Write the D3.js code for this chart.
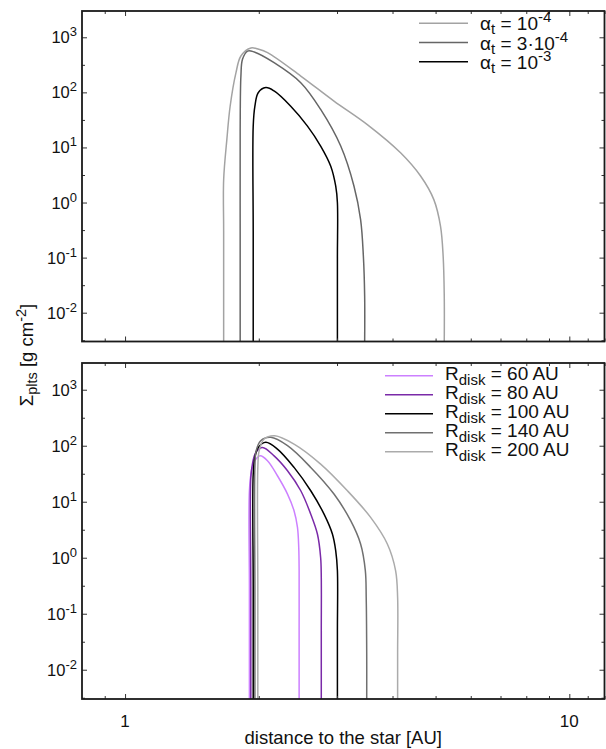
<!DOCTYPE html>
<html>
<head>
<meta charset="utf-8">
<script src="https://cdn.jsdelivr.net/npm/d3@7"></script>
<style>
  body { margin: 0; background: #fff; }
  svg { display: block; font-family: "Liberation Sans", Arial, Helvetica, sans-serif; }
</style>
</head>
<body>
<div id="chart"></div>
<script>
// ---- data: [distance AU, sigma g/cm^2] ----
const alphaLow = [[1.667, 0.003], [1.667, 0.3], [1.667, 2.6], [1.695, 14], [1.724, 56], [1.777, 228],
  [1.823, 457], [1.92, 640], [2.0, 605], [2.093, 525], [2.486, 198], [2.953, 69.5], [3.51, 26],
  [4.17, 8.0], [4.63, 3.0], [4.955, 1.13], [5.13, 0.37], [5.2, 0.106], [5.23, 0.02], [5.23, 0.003]];
const alphaMid = [[1.816, 0.003], [1.816, 0.3], [1.816, 20], [1.823, 198], [1.838, 398], [1.887, 562],
  [1.953, 541], [2.165, 346], [2.486, 150], [2.756, 49], [3.058, 10.6], [3.276, 1.98], [3.39, 0.49],
  [3.439, 0.106], [3.462, 0.02], [3.462, 0.003]];
const alphaHigh = [[1.943, 0.003], [1.943, 0.3], [1.943, 24.4], [1.96, 56], [1.994, 98.6], [2.074, 122],
  [2.165, 106], [2.36, 56], [2.574, 24.4], [2.756, 10.6], [2.904, 4.57], [2.98, 1.98], [3.006, 0.99],
  [3.006, 0.1], [3.006, 0.003]];

const rdisk60 = [[1.905, 0.003], [1.905, 0.3], [1.905, 15.7], [1.926, 35.8], [1.96, 54], [2.014, 66],
  [2.092, 54], [2.203, 29.1], [2.321, 13.7], [2.401, 6.9], [2.444, 3.47], [2.46, 1.53], [2.465, 0.59],
  [2.465, 0.05], [2.465, 0.003]];
const rdisk80 = [[1.919, 0.003], [1.919, 0.3], [1.919, 27], [1.935, 47], [1.97, 76], [2.039, 93],
  [2.165, 66], [2.321, 35.8], [2.486, 15.7], [2.618, 6.0], [2.71, 2.65], [2.756, 1.0], [2.765, 0.44],
  [2.765, 0.05], [2.765, 0.003]];
const rdisk100 = [[1.943, 0.003], [1.943, 0.3], [1.943, 31], [1.96, 61.6], [1.994, 93], [2.074, 115],
  [2.203, 87], [2.401, 41], [2.618, 15.7], [2.805, 6.0], [2.929, 2.65], [2.98, 1.33], [3.006, 0.59],
  [3.006, 0.05], [3.006, 0.003]];
const rdisk140 = [[1.96, 0.003], [1.96, 0.3], [1.96, 41], [1.973, 81.5], [2.02, 123], [2.128, 141],
  [2.321, 100], [2.618, 41], [2.953, 13.7], [3.22, 4.58], [3.39, 1.76], [3.474, 0.59], [3.49, 0.195],
  [3.499, 0.02], [3.499, 0.003]];
const rdisk200 = [[1.99, 0.003], [1.99, 0.3], [1.99, 41], [2.004, 81.5], [2.056, 132], [2.173, 151],
  [2.401, 107], [2.756, 47], [3.166, 15.7], [3.571, 5.25], [3.894, 1.76], [4.064, 0.59], [4.107, 0.195],
  [4.107, 0.02], [4.107, 0.003]];

const alphaPrefix = ["", "3·", ""];
const alphaExp = ["-4", "-4", "-3"];
const rdiskValues = [60, 80, 100, 140, 200];

const xTicks = [1, 10];
const xTickLabels = ["1", "10"];
const xMinorTicks = [0.9, 2, 3, 4, 5, 6, 7, 8, 9, 11, 12];
const yTicks = [1e-2, 1e-1, 1e0, 1e1, 1e2, 1e3];
const yTickExp = ["-2", "-1", "0", "1", "2", "3"];
const yMinorTicks = [0.00316, 0.0316, 0.316, 3.16, 31.6, 316];

// ---- styles ----
const topColors = ["#a3a3a3", "#666666", "#000000"];
const botColors = ["#cc80ff", "#7a2aa8", "#000000", "#707070", "#ababab"];

const width = 606, height = 749;
const left = 82, right = 604.5;

const svg = d3.select("#chart").append("svg")
  .attr("width", width).attr("height", height);

const x = d3.scaleLog().domain([0.8, 12]).range([left, right]);

function panel(top, bottom, series, colors, clipId) {
  const y = d3.scaleLog().domain([3e-3, 3e3]).range([bottom, top]);
  const g = svg.append("g");

  g.append("clipPath").attr("id", clipId)
    .append("rect").attr("x", left).attr("y", top)
    .attr("width", right - left).attr("height", bottom - top);

  const line = d3.line()
    .x(d => x(d[0])).y(d => y(d[1]))
    .curve(d3.curveCatmullRom.alpha(0.5));

  g.append("g").attr("clip-path", `url(#${clipId})`)
    .selectAll("path").data(series).join("path")
    .attr("d", line)
    .attr("fill", "none")
    .attr("stroke", (d, i) => colors[i])
    .attr("stroke-width", 1.5);

  // inward ticks on all four sides
  const tickStyle = s => s.call(a => a.select(".domain").remove())
    .selectAll("line").attr("stroke", "#333").attr("stroke-width", 1);
  const addAxis = (axis, tx, ty) => g.append("g")
    .attr("transform", `translate(${tx},${ty})`).call(axis).call(tickStyle);

  addAxis(d3.axisBottom(x).tickValues(xTicks).tickSize(-5).tickSizeOuter(0).tickFormat(""), 0, bottom);
  addAxis(d3.axisBottom(x).tickValues(xMinorTicks).tickSize(-3).tickSizeOuter(0).tickFormat(""), 0, bottom);
  addAxis(d3.axisTop(x).tickValues(xTicks).tickSize(-5).tickSizeOuter(0).tickFormat(""), 0, top);
  addAxis(d3.axisTop(x).tickValues(xMinorTicks).tickSize(-3).tickSizeOuter(0).tickFormat(""), 0, top);
  addAxis(d3.axisLeft(y).tickValues(yTicks).tickSize(-5).tickSizeOuter(0).tickFormat(""), left, 0);
  addAxis(d3.axisLeft(y).tickValues(yMinorTicks).tickSize(-3).tickSizeOuter(0).tickFormat(""), left, 0);
  addAxis(d3.axisRight(y).tickValues(yTicks).tickSize(-5).tickSizeOuter(0).tickFormat(""), right, 0);
  addAxis(d3.axisRight(y).tickValues(yMinorTicks).tickSize(-3).tickSizeOuter(0).tickFormat(""), right, 0);

  g.append("rect")
    .attr("x", left).attr("y", top)
    .attr("width", right - left).attr("height", bottom - top)
    .attr("fill", "none").attr("stroke", "#1a1a1a").attr("stroke-width", 1.8);

  // y tick labels 10^n
  const lab = g.append("g").selectAll("text").data(yTicks).join("text")
    .attr("x", left - 5).attr("y", d => y(d) + 6)
    .attr("text-anchor", "end").attr("font-size", 16.5).attr("fill", "#111");
  lab.append("tspan").text("10");
  lab.append("tspan").attr("dy", -7).attr("font-size", 13).text((d, i) => yTickExp[i]);

  return { g, y };
}

const topP = panel(11, 341.5, [alphaLow, alphaMid, alphaHigh], topColors, "clipTop");
const botP = panel(363, 699, [rdisk60, rdisk80, rdisk100, rdisk140, rdisk200], botColors, "clipBot");

// top legend
const topLeg = topP.g.append("g");
alphaExp.forEach((e, i) => {
  const ly = 23.3 + i * 19.2;
  topLeg.append("line").attr("x1", 419).attr("x2", 468).attr("y1", ly).attr("y2", ly)
    .attr("stroke", topColors[i]).attr("stroke-width", 1.5);
  const t = topLeg.append("text").attr("x", 480).attr("y", ly + 7)
    .attr("font-size", 19).attr("fill", "#111");
  t.append("tspan").text("α");
  t.append("tspan").attr("dy", 4).attr("font-size", 15).text("t");
  t.append("tspan").attr("dy", -4).text(" = " + alphaPrefix[i] + "10");
  t.append("tspan").attr("dy", -8).attr("font-size", 15).text(e);
});

// bottom legend
const botLeg = botP.g.append("g");
rdiskValues.forEach((v, i) => {
  const ly = 375.7 + i * 19;
  botLeg.append("line").attr("x1", 385).attr("x2", 433).attr("y1", ly).attr("y2", ly)
    .attr("stroke", botColors[i]).attr("stroke-width", 1.5);
  const t = botLeg.append("text").attr("x", 445).attr("y", ly + 4.5)
    .attr("font-size", 19).attr("fill", "#111");
  t.append("tspan").text("R");
  t.append("tspan").attr("dy", 5).attr("font-size", 15).text("disk");
  t.append("tspan").attr("dy", -5).text(" = " + v + " AU");
});

// x tick labels
svg.append("g").selectAll("text").data(xTicks).join("text")
  .attr("x", d => x(d)).attr("y", 727)
  .attr("text-anchor", "middle").attr("font-size", 17).attr("fill", "#111")
  .text((d, i) => xTickLabels[i]);

// axis titles
svg.append("text")
  .attr("x", (left + right) / 2).attr("y", 744)
  .attr("text-anchor", "middle").attr("font-size", 18.5).attr("fill", "#111")
  .text("distance to the star [AU]");

const yt = svg.append("text")
  .attr("transform", "translate(33,355) rotate(-90)")
  .attr("text-anchor", "middle").attr("font-size", 18.5).attr("fill", "#111");
yt.append("tspan").text("Σ");
yt.append("tspan").attr("dy", 4).attr("font-size", 14.5).text("plts");
yt.append("tspan").attr("dy", -4).text(" [g cm");
yt.append("tspan").attr("dy", -7).attr("font-size", 14.5).text("-2");
yt.append("tspan").attr("dy", 7).text("]");
</script>
</body>
</html>
